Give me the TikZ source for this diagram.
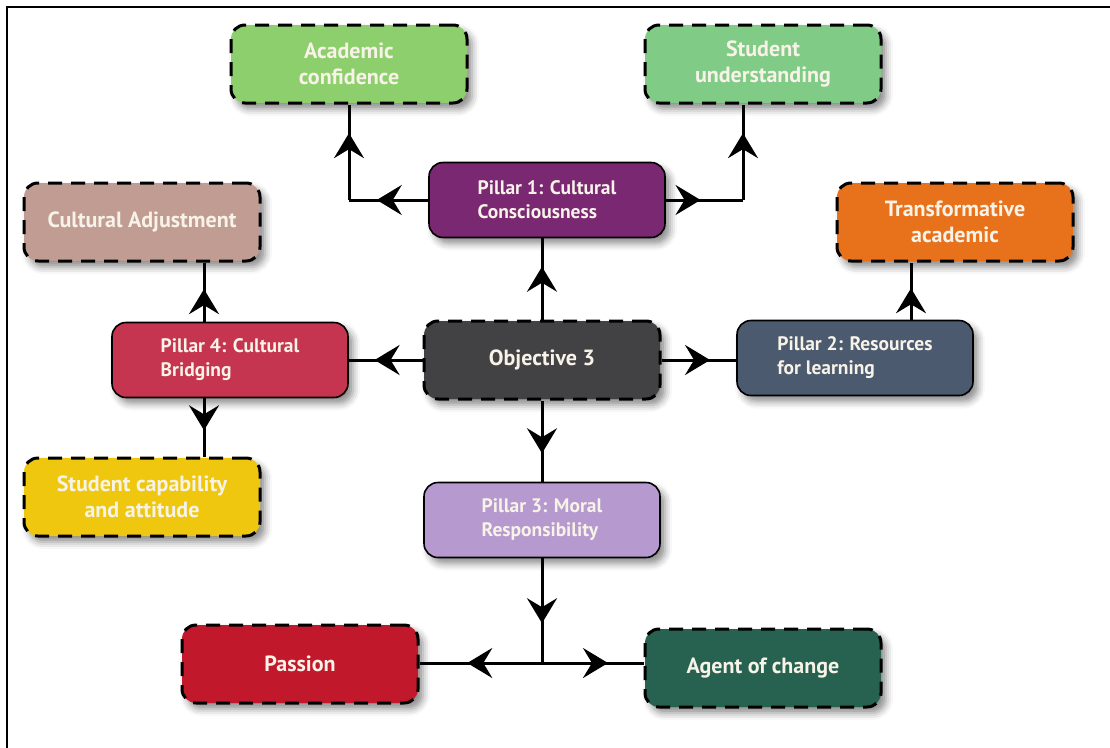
\documentclass[tikz,border=0pt]{standalone}
\usepackage{fontspec}
\setmainfont{PT Sans}
\usetikzlibrary{arrows.meta, positioning, decorations.markings, shadows.blur}

\definecolor{acadgreen}{HTML}{8DCF6D}
\definecolor{undgreen}{HTML}{80CB85}
\definecolor{pillarone}{HTML}{7A2872}
\definecolor{adjustrose}{HTML}{C09C93}
\definecolor{transorange}{HTML}{E8721C}
\definecolor{pillarfour}{HTML}{C5354F}
\definecolor{objgrey}{HTML}{424244}
\definecolor{pillartwo}{HTML}{4B5A6E}
\definecolor{capyellow}{HTML}{EFC70F}
\definecolor{pillarthree}{HTML}{B699CE}
\definecolor{passionred}{HTML}{C1192B}
\definecolor{agentgreen}{HTML}{276150}
\definecolor{txtcol}{HTML}{F8F3E8}

\begin{document}
\begin{tikzpicture}[x=1pt, y=-1pt,
  box/.style={rounded corners=14pt, minimum width=236pt, minimum height=78pt,
    inner sep=0pt, text=txtcol,
    blur shadow={shadow xshift=5pt, shadow yshift=-6pt, shadow blur radius=7pt, shadow opacity=45}},
  goalbox/.style={box, draw=black, line width=3pt, dash pattern=on 14pt off 9pt, align=center,
    font=\fontsize{22}{26}\selectfont\bfseries},
  pillarbox/.style={box, draw=black, line width=1.6pt, minimum height=75pt, align=left,
    font=\fontsize{19.5}{24}\selectfont\bfseries},
  link/.style={line width=3pt, line cap=butt},
  midarrow/.style={postaction={decorate}, decoration={markings,
    mark=at position #1 with {\arrow{Stealth[length=25pt, width=30pt, inset=9pt]}}}},
  midarrow/.default=0.65]

  \useasboundingbox (0,0) rectangle (1110,747);
  % cut frame: only top and left edges stay inside the page
  \draw[line width=2.5pt] (1120,7) -- (7,7) -- (7,760);

  % centre and pillars
  \node[goalbox, fill=objgrey] (OB) at (542,360) {Objective 3};
  \node[pillarbox, fill=pillarone] (P1) at (547,200) {Pillar 1: Cultural\\Consciousness};
  \node[pillarbox, fill=pillartwo] (P2) at (855,358) {Pillar 2: Resources\\for learning};
  \node[pillarbox, fill=pillarthree] (P3) at (542,520) {Pillar 3: Moral\\Responsibility};
  \node[pillarbox, fill=pillarfour] (P4) at (230,360) {Pillar 4: Cultural\\Bridging};

  % outcomes
  \node[goalbox, fill=acadgreen] (AC) at (349,64) {Academic\\confidence};
  \node[goalbox, fill=undgreen] (SU) at (763,64) {Student\\understanding};
  \node[goalbox, fill=adjustrose] (CA) at (142,222) {Cultural Adjustment};
  \node[goalbox, fill=transorange] (TA) at (955,222) {Transformative\\academic};
  \node[goalbox, fill=capyellow] (SC) at (142,497) {Student capability\\and attitude};
  \node[goalbox, fill=passionred] (PA) at (300,664) {Passion};
  \node[goalbox, fill=agentgreen] (AG) at (763,668) {Agent of change};

  % corner points of the elbow connectors
  \coordinate (c1) at (P1.west -| AC.south);
  \coordinate (c2) at (743,200);
  \coordinate (p4x) at (204,0);
  \coordinate (p2x) at (911,0);
  \coordinate (jn) at (OB.south |- 0,663);

  \draw[link, midarrow] (OB.north) -- (OB.north |- P1.south);
  \draw[link, midarrow] (OB.west) -- (P4.east);
  \draw[link, midarrow] (OB.east) -- (P2.west |- OB.east);
  \draw[link, midarrow] (OB.south) -- (OB.south |- P3.north);

  \draw[link, midarrow] (P1.west) -- (c1);
  \draw[link, midarrow=0.7] (c1) -- (AC.south);
  \draw[link, midarrow=0.45] (P1.east) -- (c2);
  \draw[link, midarrow=0.7] (c2) -- (c2 |- SU.south);

  \draw[link, midarrow=0.55] (P4.north -| p4x) -- (CA.south -| p4x);
  \draw[link, midarrow=0.55] (P4.south -| p4x) -- (SC.north -| p4x);
  \draw[link, midarrow=0.55] (P2.north -| p2x) -- (TA.south -| p2x);

  \draw[link, midarrow=0.62] (P3.south -| jn) -- (jn);
  \draw[link, midarrow=0.61] (jn) -- (PA.east |- jn);
  \draw[link, midarrow=0.65] (jn) -- (AG.west |- jn);
\end{tikzpicture}
\end{document}
